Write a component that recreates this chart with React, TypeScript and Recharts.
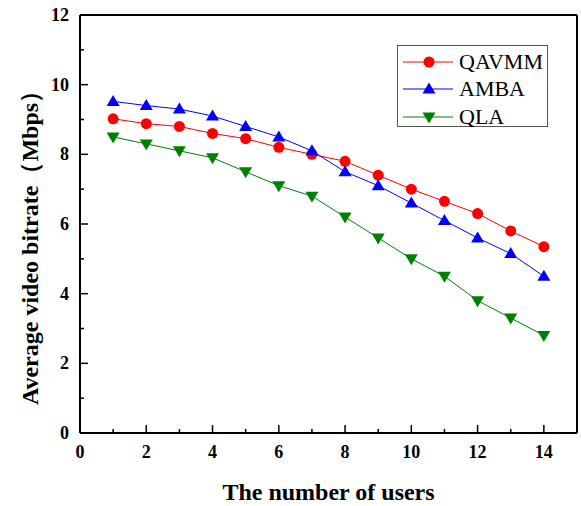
import React from "react";
import {
  LineChart,
  Line,
  XAxis,
  YAxis,
  Legend,
  ReferenceLine,
  Label,
} from "recharts";

const users = [1, 2, 3, 4, 5, 6, 7, 8, 9, 10, 11, 12, 13, 14];
const qavmm = [9.02, 8.88, 8.8, 8.6, 8.45, 8.2, 8.0, 7.8, 7.4, 7.0, 6.65, 6.3, 5.8, 5.35];
const amba = [9.52, 9.4, 9.3, 9.1, 8.8, 8.5, 8.1, 7.5, 7.1, 6.6, 6.1, 5.6, 5.15, 4.5];
const qla = [8.5, 8.3, 8.1, 7.9, 7.5, 7.1, 6.8, 6.2, 5.6, 5.0, 4.5, 3.8, 3.3, 2.8];
const xTicks = [0, 1, 2, 3, 4, 5, 6, 7, 8, 9, 10, 11, 12, 13, 14];
const yTicks = [0, 1, 2, 3, 4, 5, 6, 7, 8, 9, 10, 11, 12];

const data = users.map((u, i) => ({
  x: u,
  QAVMM: qavmm[i],
  AMBA: amba[i],
  QLA: qla[i],
}));

const SERIF = '"Liberation Serif", "Times New Roman", serif';

type Shape = "circle" | "up" | "down";

const SERIES: { key: string; color: string; shape: Shape }[] = [
  { key: "QAVMM", color: "#ff0000", shape: "circle" },
  { key: "AMBA", color: "#0000ff", shape: "up" },
  { key: "QLA", color: "#008000", shape: "down" },
];

function Marker({ cx, cy, shape, color }: { cx: number; cy: number; shape: Shape; color: string }) {
  if (shape === "circle") return <circle cx={cx} cy={cy} r={5.5} fill={color} />;
  const s = 6.5;
  if (shape === "up") {
    return (
      <polygon
        points={`${cx},${cy - s} ${cx - s},${cy + 4.5} ${cx + s},${cy + 4.5}`}
        fill={color}
      />
    );
  }
  return (
    <polygon
      points={`${cx},${cy + s} ${cx - s},${cy - 4.5} ${cx + s},${cy - 4.5}`}
      fill={color}
    />
  );
}

function makeDot(shape: Shape, color: string) {
  return (props: any) => {
    const { cx, cy, index } = props;
    if (cx == null || cy == null) return <g key={index} />;
    return (
      <g key={index}>
        <Marker cx={cx} cy={cy} shape={shape} color={color} />
      </g>
    );
  };
}

function XTick({ x, y, payload }: any) {
  const major = payload.value % 2 === 0;
  return (
    <g>
      <line x1={x} y1={y} x2={x} y2={y - (major ? 8 : 4)} stroke="#000" strokeWidth={1.5} />
      {major && (
        <text
          x={x}
          y={y + 25}
          textAnchor="middle"
          fontFamily={SERIF}
          fontWeight="bold"
          fontSize={18}
          fill="#000"
        >
          {payload.value}
        </text>
      )}
    </g>
  );
}

function YTick({ x, y, payload }: any) {
  const major = payload.value % 2 === 0;
  return (
    <g>
      <line x1={x} y1={y} x2={x + (major ? 8 : 4)} y2={y} stroke="#000" strokeWidth={1.5} />
      {major && (
        <text
          x={x - 11}
          y={y + 6}
          textAnchor="end"
          fontFamily={SERIF}
          fontWeight="bold"
          fontSize={18}
          fill="#000"
        >
          {payload.value}
        </text>
      )}
    </g>
  );
}

function LegendBox() {
  return (
    <div
      style={{
        border: "1.5px solid #555",
        background: "#fff",
        width: 151,
        height: 82,
        boxSizing: "border-box",
        padding: "2px 0 0 5px",
      }}
    >
      {SERIES.map((s) => (
        <div key={s.key} style={{ display: "flex", alignItems: "center", height: 27.5 }}>
          <svg width={52} height={20} style={{ display: "block" }}>
            <line x1={0} y1={10} x2={50} y2={10} stroke={s.color} strokeWidth={1} />
            <Marker cx={26} cy={10} shape={s.shape} color={s.color} />
          </svg>
          <span
            style={{
              fontFamily: SERIF,
              fontSize: 22,
              lineHeight: "22px",
              marginLeft: 4,
              color: "#000",
            }}
          >
            {s.key}
          </span>
        </div>
      ))}
    </div>
  );
}

export default function App() {
  return (
    <div style={{ position: "absolute", left: 0, top: 0, width: 581, height: 506, background: "#fff" }}>
      <LineChart
        width={581}
        height={506}
        data={data}
        margin={{ top: 15, right: 4, bottom: 0, left: 0 }}
      >
        <XAxis
          dataKey="x"
          type="number"
          domain={[0, 15]}
          ticks={xTicks}
          interval={0}
          height={73}
          tickSize={0}
          tickMargin={0}
          tickLine={false}
          tick={<XTick />}
          axisLine={{ stroke: "#000", strokeWidth: 2 }}
        >
          <Label
            content={({ viewBox }: any) => (
              <text
                x={viewBox.x + viewBox.width / 2}
                y={viewBox.y + 67}
                textAnchor="middle"
                fontFamily={SERIF}
                fontWeight="bold"
                fontSize={24}
                fill="#000"
              >
                The number of users
              </text>
            )}
          />
        </XAxis>
        <YAxis
          type="number"
          domain={[0, 12]}
          ticks={yTicks}
          interval={0}
          width={80}
          tickSize={0}
          tickMargin={0}
          tickLine={false}
          tick={<YTick />}
          axisLine={{ stroke: "#000", strokeWidth: 2 }}
        >
          <Label
            content={({ viewBox }: any) => {
              const cx = 30;
              const cy = viewBox.y + viewBox.height / 2 + 18;
              return (
                <text
                  x={cx}
                  y={cy}
                  transform={`rotate(-90, ${cx}, ${cy})`}
                  textAnchor="middle"
                  dominantBaseline="central"
                  fontFamily={SERIF}
                  fontWeight="bold"
                  fontSize={24}
                  fill="#000"
                >
                  Average video bitrate（Mbps）
                </text>
              );
            }}
          />
        </YAxis>
        <ReferenceLine y={12} stroke="#000" strokeWidth={2} />
        <ReferenceLine x={15} stroke="#000" strokeWidth={2} />
        <Legend
          layout="vertical"
          align="center"
          verticalAlign="middle"
          wrapperStyle={{ left: 397, top: 45, width: 151, height: 82 }}
          content={() => <LegendBox />}
        />
        {SERIES.map((s) => (
          <Line
            key={s.key}
            type="linear"
            dataKey={s.key}
            stroke={s.color}
            strokeWidth={1}
            dot={makeDot(s.shape, s.color)}
            activeDot={false}
            isAnimationActive={false}
          />
        ))}
      </LineChart>
    </div>
  );
}
